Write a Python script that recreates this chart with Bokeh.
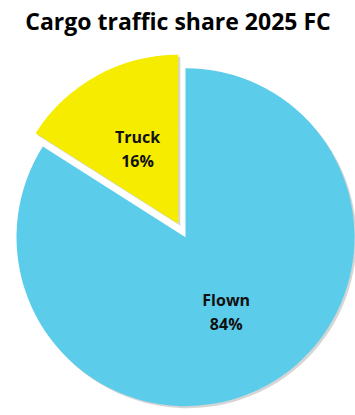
import math
from bokeh.plotting import figure
from bokeh.models import Range1d, ColumnDataSource
from bokeh.core.properties import value
from bokeh.embed import file_html
from bokeh.resources import INLINE

# ---- data ----
categories = ["Flown", "Truck"]
shares = [84, 16]
colors = ["#5BCDEA", "#F5EC00"]
title_text = "Cargo traffic share 2025 FC"

# ---- layout ----
W, H = 355, 415
T = 43  # title band height (estimate)
cx, cy = 185, H - 239
r = 169
explode = {"Truck": 15}

total = sum(shares)
start = math.pi / 2
rows = []
for cat, v, col in zip(categories, shares, colors):
    sweep = 2 * math.pi * v / total
    end = start - sweep
    mid = (start + end) / 2
    d = explode.get(cat, 0)
    x0 = cx + d * math.cos(mid)
    y0 = cy + d * math.sin(mid)
    rows.append(dict(cat=cat, v=v, col=col, s=start, e=end, x=x0, y=y0,
                     lx=x0 + 0.5 * r * math.cos(mid), ly=y0 + 0.5 * r * math.sin(mid)))
    start = end

p = figure(width=W, height=H, x_range=Range1d(0, W), y_range=Range1d(0, H - T),
           output_backend="svg", toolbar_location=None, min_border=0,
           min_border_top=3, title=title_text)
p.axis.visible = False
p.grid.visible = False
p.outline_line_color = None
p.title.align = "center"
p.title.text_font = "Open Sans"
p.title.text_font_style = "bold"
p.title.text_font_size = "23px"
p.title.text_color = "#000000"
p.title.offset = 0
p.title.standoff = 4

src = ColumnDataSource(dict(
    x=[d["x"] for d in rows], y=[d["y"] for d in rows],
    s=[d["s"] for d in rows], e=[d["e"] for d in rows],
    col=[d["col"] for d in rows],
    sx=[d["x"] + 2 for d in rows], sy=[d["y"] - 2 for d in rows],
))
# soft shadow
p.wedge(x="sx", y="sy", radius=r, start_angle="s", end_angle="e", direction="clock",
        source=src, fill_color="#888888", fill_alpha=0.35, line_color=None)
p.wedge(x="x", y="y", radius=r, start_angle="s", end_angle="e", direction="clock",
        source=src, fill_color="col", line_color=None)

lab = ColumnDataSource(dict(
    x=[d["lx"] for d in rows], y=[d["ly"] for d in rows],
    t=[f"{d['cat']}\n{d['v']}%" for d in rows],
))
p.text(x="x", y="y", text="t", source=lab, text_align="center", text_baseline="middle",
       text_font=value("Open Sans"), text_font_size="16px", text_font_style="bold",
       text_color="#111111", text_line_height=1.1)

open("out.html", "w").write(file_html(p, INLINE))
